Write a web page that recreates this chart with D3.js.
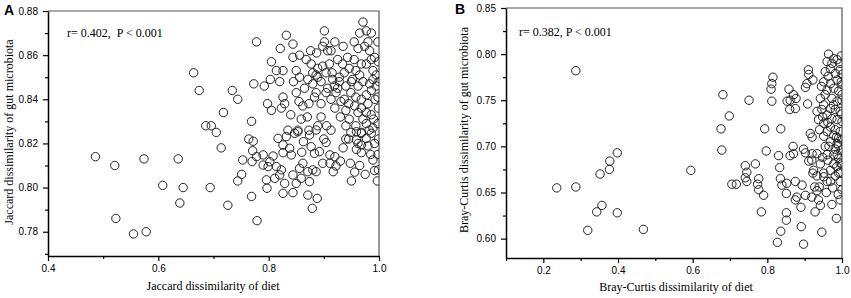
<!DOCTYPE html>
<html>
<head>
<meta charset="utf-8">
<script src="https://cdn.jsdelivr.net/npm/d3@7"></script>
<style>
  body { margin: 0; background: #fff; }
  .tick text { font-family: "Liberation Sans", Arial, sans-serif; font-size: 10px; fill: #000; }
  .axis-title, .note { font-family: "Liberation Serif", "Times New Roman", serif; font-size: 12px; fill: #000; }
  .panel-tag { font-family: "Liberation Sans", Arial, sans-serif; font-size: 14px; font-weight: bold; }
</style>
</head>
<body>
<div id="chart"></div>
<script>
// panel A : Jaccard (diet, gut microbiota)
const jaccardPts = [
  [0.486,0.814],[0.521,0.810],[0.574,0.813],[0.636,0.813],[0.608,0.801],[0.645,0.800],[0.639,0.793],[0.523,0.786],
  [0.555,0.779],[0.578,0.780],[0.664,0.852],[0.674,0.844],[0.734,0.844],[0.744,0.840],[0.718,0.834],[0.686,0.828],
  [0.696,0.828],[0.705,0.825],[0.714,0.818],[0.769,0.830],[0.764,0.822],[0.772,0.821],[0.773,0.847],[0.778,0.866],
  [0.694,0.800],[0.726,0.792],[0.779,0.785],[0.769,0.796],[0.744,0.803],[0.751,0.806],[0.753,0.8125],
  [0.832,0.869],[0.844,0.865],[0.821,0.863],[0.901,0.871],[0.971,0.875],[0.977,0.871],[0.986,0.870],
  [0.901,0.866],[0.898,0.864],[0.907,0.862],[0.913,0.862],[0.805,0.857],[0.844,0.859],[0.856,0.860],
  [0.868,0.858],[0.876,0.862],[0.887,0.861],[0.877,0.856],[0.814,0.853],[0.826,0.853],[0.850,0.853],
  [0.803,0.849],[0.792,0.846],[0.820,0.848],[0.845,0.848],[0.856,0.850],
  [0.871,0.849],[0.886,0.851],[0.889,0.854],[0.898,0.855],[0.910,0.856],[0.925,0.858],[0.934,0.856],[0.943,0.859],[0.955,0.858],
  [0.962,0.863],[0.974,0.864],[0.980,0.866],[0.983,0.862],[0.992,0.859],
  [0.880,0.852],[0.889,0.850],[0.904,0.852],[0.916,0.849],[0.928,0.850],[0.937,0.852],[0.946,0.854],[0.958,0.853],
  [0.968,0.856],[0.977,0.856],[0.986,0.858],[0.989,0.853],[0.995,0.851],
  [0.880,0.847],[0.895,0.848],[0.907,0.845],[0.919,0.846],[0.928,0.848],[0.940,0.846],[0.952,0.849],[0.962,0.846],
  [0.971,0.848],[0.983,0.847],[0.989,0.849],
  [0.886,0.843],[0.904,0.843],[0.922,0.843],[0.937,0.840],[0.949,0.843],[0.958,0.841],[0.968,0.840],[0.977,0.842],
  [0.986,0.844],[0.995,0.846],
  [0.798,0.838],[0.805,0.835],[0.826,0.841],[0.823,0.836],[0.829,0.838],
  [0.855,0.839],[0.862,0.837],[0.873,0.838],[0.883,0.841],[0.895,0.838],[0.913,0.840],
  [0.931,0.839],[0.940,0.835],[0.946,0.831],[0.956,0.837],[0.962,0.834],[0.968,0.836],[0.977,0.834],[0.986,0.833],[0.971,0.831],
  [0.859,0.831],[0.835,0.826],[0.853,0.826],[0.873,0.826],[0.889,0.828],[0.913,0.826],
  [0.940,0.828],[0.958,0.828],[0.977,0.829],[0.989,0.827],[0.949,0.825],[0.968,0.825],
  [0.771,0.8167],[0.778,0.814],[0.790,0.8148],[0.770,0.8118],[0.790,0.8102],[0.802,0.8117],[0.808,0.8143],[0.799,0.8095],
  [0.796,0.8035],[0.797,0.7997],[0.811,0.8042],[0.820,0.8057],[0.823,0.808],[0.814,0.8095],
  [0.817,0.8223],[0.832,0.8231],[0.847,0.8246],[0.853,0.8253],[0.874,0.8238],[0.886,0.8261],[0.826,0.8193],[0.838,0.8178],
  [0.841,0.8148],[0.826,0.8158],[0.863,0.8208],[0.877,0.8185],[0.892,0.8163],[0.904,0.8204],[0.883,0.8155],
  [0.911,0.8148],[0.920,0.814],[0.898,0.811],[0.911,0.811],[0.922,0.8098],[0.917,0.8072],
  [0.844,0.8057],[0.856,0.8087],[0.862,0.811],[0.871,0.8072],[0.880,0.808],[0.886,0.8072],[0.859,0.8042],[0.874,0.8027],
  [0.850,0.8019],[0.829,0.8019],[0.826,0.7974],[0.844,0.7977],[0.871,0.7966],[0.888,0.7951],[0.879,0.7906],
  [0.948,0.811],[0.956,0.807],[0.965,0.810],[0.950,0.803],[0.959,0.8253],[0.959,0.8216],[0.968,0.8246],[0.977,0.8223],
  [0.986,0.8246],[0.992,0.820],[0.968,0.8193],[0.959,0.8173],[0.968,0.8158],[0.980,0.8189],[0.989,0.8125],[0.992,0.8077],
  [0.998,0.866],[0.999,0.857],[0.998,0.841],[0.999,0.836],[0.998,0.829],[0.999,0.822],[0.998,0.815],[0.999,0.808],
  [1.0,0.848],[0.997,0.803],[0.935,0.818],[0.940,0.822],[0.930,0.812],
  [0.965,0.870],[0.955,0.866],[0.935,0.864],[0.920,0.866],[0.915,0.852],[0.925,0.845],[0.945,0.838],[0.950,0.848],
  [0.965,0.851],[0.980,0.838],[0.993,0.840],[0.990,0.831],[0.982,0.826],[0.962,0.820],[0.945,0.822],[0.930,0.832],
  [0.920,0.836],[0.905,0.828],[0.900,0.822],[0.895,0.832],[0.870,0.832],[0.865,0.845],[0.850,0.843],[0.840,0.833],
  [0.860,0.816],[0.985,0.815],[0.975,0.806]
];
const jacXTicks = [0.4, 0.6, 0.8, 1.0];
const jacXMinor = [0.5, 0.7, 0.9];
const jacYTicks = [0.78, 0.80, 0.82, 0.84, 0.86, 0.88];
const jacYMinor = [0.77, 0.79, 0.81, 0.83, 0.85, 0.87];

// panel B : Bray-Curtis (diet, gut microbiota)
const brayPts = [
  [0.287,0.782],[0.236,0.655],[0.287,0.656],[0.352,0.670],[0.377,0.675],[0.378,0.684],[0.357,0.636],[0.343,0.629],
  [0.319,0.609],[0.398,0.628],[0.398,0.693],[0.595,0.674],[0.468,0.610],
  [0.681,0.756],[0.698,0.733],[0.676,0.719],[0.751,0.750],[0.793,0.719],[0.836,0.719],[0.812,0.749],[0.810,0.762],
  [0.812,0.768],[0.815,0.775],[0.858,0.762],[0.870,0.756],[0.861,0.750],[0.853,0.749],[0.877,0.752],[0.875,0.741],
  [0.860,0.740],[0.908,0.746],[0.902,0.764],[0.906,0.768],[0.911,0.778],[0.922,0.772],[0.915,0.714],[0.920,0.710],
  [0.910,0.783],
  [0.964,0.800],[0.960,0.792],[0.973,0.790],[0.987,0.794],[0.995,0.790],[0.955,0.781],[0.969,0.784],[0.982,0.779],
  [0.995,0.783],[1.0,0.778],[0.951,0.770],[0.969,0.768],[0.987,0.772],[1.0,0.767],[0.960,0.761],[0.978,0.763],
  [0.991,0.760],[1.0,0.756],[0.955,0.756],[0.973,0.752],[0.987,0.749],[1.0,0.750],[0.951,0.745],[0.969,0.741],
  [0.982,0.740],[0.995,0.738],[0.933,0.738],[0.946,0.740],[0.960,0.734],[0.973,0.730],[0.987,0.729],[1.0,0.727],
  [0.937,0.729],[0.951,0.725],[0.969,0.721],[0.982,0.718],[0.995,0.716],[0.960,0.716],[0.978,0.712],[0.991,0.709],
  [1.0,0.707],[0.951,0.711],[0.969,0.705],[0.987,0.703],
  [0.678,0.696],[0.797,0.695],[0.768,0.681],[0.741,0.679],[0.745,0.672],[0.741,0.666],[0.745,0.662],[0.705,0.659],
  [0.717,0.659],[0.777,0.665],[0.774,0.659],[0.777,0.653],[0.790,0.647],[0.784,0.629],
  [0.830,0.690],[0.833,0.677],[0.835,0.665],[0.839,0.658],[0.852,0.660],[0.851,0.649],[0.870,0.692],[0.861,0.690],
  [0.869,0.700],[0.875,0.662],[0.893,0.658],[0.879,0.645],[0.902,0.647],[0.890,0.634],[0.875,0.642],
  [0.851,0.628],[0.851,0.620],[0.836,0.608],[0.827,0.596],[0.891,0.613],[0.897,0.594],[0.946,0.607],
  [0.928,0.629],[0.942,0.636],[0.937,0.642],[0.973,0.637],[0.958,0.650],[0.933,0.652],[0.927,0.656],[0.939,0.656],
  [0.897,0.697],[0.911,0.684],[0.920,0.692],[0.933,0.692],[0.924,0.674],[0.922,0.671],[0.933,0.668],[0.942,0.681],
  [0.951,0.671],[0.960,0.691],[0.969,0.674],[0.969,0.662],[0.978,0.681],[0.987,0.691],[0.991,0.671],[0.995,0.662],
  [1.0,0.653],[0.991,0.701],[1.0,0.696],[1.0,0.681],
  [0.902,0.693],[0.919,0.685],[0.919,0.645],[0.960,0.662],
  [0.951,0.667],[0.978,0.691],[0.995,0.682],[0.986,0.678],[0.995,0.672],[0.991,0.687],[0.985,0.622],[0.995,0.642],
  [0.965,0.700],[0.982,0.697],[0.962,0.685],[0.982,0.668],[0.975,0.655],[0.990,0.648],[0.985,0.710],[0.962,0.726],
  [0.998,0.735],[0.977,0.745],[0.963,0.776],[0.998,0.770],[0.978,0.795],[0.998,0.798],[0.945,0.765],[0.942,0.752],
  [0.948,0.732],[0.940,0.718],[0.955,0.700],[0.948,0.688]
];
const brayXTicks = [0.2, 0.4, 0.6, 0.8, 1.0];
const brayXMinor = [0.1, 0.3, 0.5, 0.7, 0.9];
const brayYTicks = [0.60, 0.65, 0.70, 0.75, 0.80, 0.85];
const brayYMinor = [0.625, 0.675, 0.725, 0.775, 0.825];

const W = 851, H = 298;
const svg = d3.select('#chart').append('svg').attr('width', W).attr('height', H);

function drawPanel(p) {
  const x = d3.scaleLinear(p.xDomain, [p.x0, p.x1]);
  const y = d3.scaleLinear(p.yDomain, [p.y1, p.y0]);
  const g = svg.append('g');

  // clip the markers at the frame
  const clipId = 'clip-' + p.tag;
  svg.append('clipPath').attr('id', clipId).append('rect')
    .attr('x', p.x0).attr('y', p.y0).attr('width', p.x1 - p.x0).attr('height', p.y1 - p.y0);

  // top / right frame
  g.append('path')
    .attr('d', `M${p.x0},${p.y0}H${p.x1}V${p.y1}`)
    .attr('fill', 'none').attr('stroke', '#555').attr('stroke-width', 1.2);

  g.append('g').attr('clip-path', `url(#${clipId})`)
    .selectAll('circle').data(p.pts).join('circle')
    .attr('cx', d => x(d[0])).attr('cy', d => y(d[1]))
    .attr('r', 4.2)
    .attr('fill', 'none').attr('stroke', '#222').attr('stroke-width', 1);

  // minor ticks
  g.append('g').attr('transform', `translate(0,${p.y1})`)
    .call(d3.axisBottom(x).tickValues(p.xMinor).tickSizeInner(3).tickSizeOuter(0).tickFormat(''))
    .call(a => a.select('.domain').remove());
  g.append('g').attr('transform', `translate(${p.x0},0)`)
    .call(d3.axisLeft(y).tickValues(p.yMinor).tickSizeInner(3).tickSizeOuter(0).tickFormat(''))
    .call(a => a.select('.domain').remove());

  // major axes
  g.append('g').attr('transform', `translate(0,${p.y1})`)
    .call(d3.axisBottom(x).tickValues(p.xTicks).tickSizeInner(5).tickSizeOuter(0).tickPadding(4).tickFormat(d3.format('.1f')));
  g.append('g').attr('transform', `translate(${p.x0},0)`)
    .call(d3.axisLeft(y).tickValues(p.yTicks).tickSizeInner(5).tickSizeOuter(0).tickPadding(5).tickFormat(d3.format('.2f')));

  g.selectAll('.domain').attr('stroke', '#000').attr('stroke-width', 1.5);
  g.selectAll('.tick line').attr('stroke', '#000').attr('stroke-width', 1.2);

  g.append('text').attr('class', 'axis-title')
    .attr('x', p.xTitlePos[0]).attr('y', p.xTitlePos[1]).attr('text-anchor', 'middle').text(p.xTitle);
  g.append('text').attr('class', 'axis-title')
    .attr('transform', `translate(${p.yTitlePos[0]},${p.yTitlePos[1]}) rotate(-90)`)
    .attr('text-anchor', 'middle').text(p.yTitle);

  g.append('text').attr('class', 'note').attr('x', p.notePos[0]).attr('y', p.notePos[1])
    .attr('xml:space', 'preserve').style('white-space', 'pre').text(p.note);
  g.append('text').attr('class', 'panel-tag').attr('x', p.tagPos[0]).attr('y', p.tagPos[1]).text(p.tag);
}

drawPanel({
  tag: 'A', pts: jaccardPts,
  x0: 48, x1: 379, y0: 11, y1: 256,
  xDomain: [0.4, 1.0], yDomain: [0.769, 0.88],
  xTicks: jacXTicks, xMinor: jacXMinor, yTicks: jacYTicks, yMinor: jacYMinor,
  xTitle: 'Jaccard dissimilarity of diet', xTitlePos: [213, 290],
  yTitle: 'Jaccard dissimilarity of gut microbiota', yTitlePos: [13, 132],
  note: 'r= 0.402,  P < 0.001', notePos: [67, 37],
  tagPos: [4, 15]
});

drawPanel({
  tag: 'B', pts: brayPts,
  x0: 506, x1: 842, y0: 8, y1: 258,
  xDomain: [0.1, 1.0], yDomain: [0.579, 0.85],
  xTicks: brayXTicks, xMinor: brayXMinor, yTicks: brayYTicks, yMinor: brayYMinor,
  xTitle: 'Bray-Curtis dissimilarity of diet', xTitlePos: [676, 291],
  yTitle: 'Bray-Curtis dissimilarity of gut microbiota', yTitlePos: [468, 130],
  note: 'r= 0.382, P < 0.001', notePos: [519, 36],
  tagPos: [455, 14]
});
</script>
</body>
</html>
